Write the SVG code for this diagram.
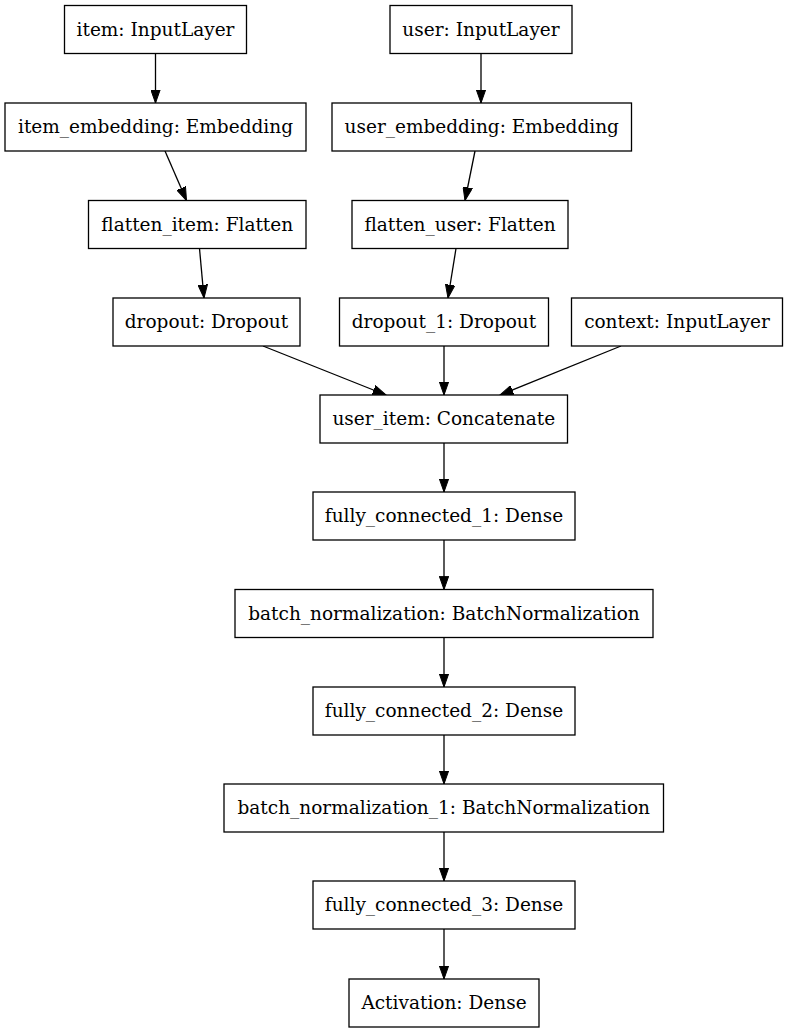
<svg xmlns="http://www.w3.org/2000/svg" width="788" height="1033" viewBox="0 0 788 1033">
  <style>
    .node rect { fill: #ffffff; stroke: #000000; stroke-width: 1.3; }
    .node text { font-family: "DejaVu Serif", "Liberation Serif", serif; font-size: 18.5px; fill: #000000; text-anchor: middle; }
    .edges line { stroke: #000000; stroke-width: 1.3; marker-end: url(#arrow); }
  </style>
  <defs>
    <marker id="arrow" markerUnits="userSpaceOnUse" markerWidth="14" markerHeight="10" viewBox="0 -5 14 10" refX="13.3" refY="0" orient="auto">
      <path d="M0,-4.7 L13.3,0 L0,4.7 Z" fill="#000000" stroke="#000000" stroke-width="1"/>
    </marker>
  </defs>
  <rect x="0" y="0" width="788" height="1033" fill="#ffffff"/>

  <!-- connectors -->
  <g class="edges" id="edges">
    <line x1="155.5" y1="53.5" x2="155.5" y2="103"/>
    <line x1="481" y1="53.5" x2="481" y2="103"/>
    <line x1="165" y1="151" x2="186.5" y2="200.5"/>
    <line x1="475" y1="151" x2="465" y2="200.5"/>
    <line x1="199.5" y1="248.5" x2="204" y2="298"/>
    <line x1="456" y1="248.5" x2="448" y2="298"/>
    <line x1="263" y1="346" x2="386" y2="395"/>
    <line x1="444" y1="346" x2="444" y2="395"/>
    <line x1="621" y1="346" x2="500" y2="395"/>
    <line x1="444" y1="443" x2="444" y2="492"/>
    <line x1="444" y1="540" x2="444" y2="589.5"/>
    <line x1="444" y1="637.5" x2="444" y2="687"/>
    <line x1="444" y1="735" x2="444" y2="784"/>
    <line x1="444" y1="832" x2="444" y2="881"/>
    <line x1="444" y1="929" x2="444" y2="979"/>
  </g>

  <!-- layers -->
  <g class="node" id="item">
    <rect x="64.5" y="5.5" width="182" height="48"/>
    <text x="155.5" y="35.5">item: InputLayer</text>
  </g>
  <g class="node" id="user">
    <rect x="390" y="5.5" width="182" height="48"/>
    <text x="481" y="35.5">user: InputLayer</text>
  </g>
  <g class="node" id="item_embedding">
    <rect x="5" y="103" width="301" height="48"/>
    <text x="155.5" y="133">item_embedding: Embedding</text>
  </g>
  <g class="node" id="user_embedding">
    <rect x="332" y="103" width="299.5" height="48"/>
    <text x="481.75" y="133">user_embedding: Embedding</text>
  </g>
  <g class="node" id="flatten_item">
    <rect x="88.5" y="200.5" width="217.5" height="48"/>
    <text x="197.25" y="230.5">flatten_item: Flatten</text>
  </g>
  <g class="node" id="flatten_user">
    <rect x="352" y="200.5" width="216" height="48"/>
    <text x="460" y="230.5">flatten_user: Flatten</text>
  </g>
  <g class="node" id="dropout">
    <rect x="113" y="298" width="187" height="48"/>
    <text x="206.5" y="328">dropout: Dropout</text>
  </g>
  <g class="node" id="dropout_1">
    <rect x="339.5" y="298" width="209" height="48"/>
    <text x="444" y="328">dropout_1: Dropout</text>
  </g>
  <g class="node" id="context">
    <rect x="571.5" y="298" width="211" height="48"/>
    <text x="677" y="328">context: InputLayer</text>
  </g>
  <g class="node" id="user_item">
    <rect x="320" y="395" width="247.5" height="48"/>
    <text x="443.75" y="425">user_item: Concatenate</text>
  </g>
  <g class="node" id="fully_connected_1">
    <rect x="313" y="492" width="262" height="48"/>
    <text x="444" y="522">fully_connected_1: Dense</text>
  </g>
  <g class="node" id="batch_normalization">
    <rect x="235" y="589.5" width="418" height="48"/>
    <text x="444" y="619.5">batch_normalization: BatchNormalization</text>
  </g>
  <g class="node" id="fully_connected_2">
    <rect x="313" y="687" width="262" height="48"/>
    <text x="444" y="717">fully_connected_2: Dense</text>
  </g>
  <g class="node" id="batch_normalization_1">
    <rect x="224" y="784" width="439.5" height="48"/>
    <text x="443.75" y="814">batch_normalization_1: BatchNormalization</text>
  </g>
  <g class="node" id="fully_connected_3">
    <rect x="313" y="881" width="262" height="48"/>
    <text x="444" y="911">fully_connected_3: Dense</text>
  </g>
  <g class="node" id="activation">
    <rect x="349" y="979" width="190" height="48"/>
    <text x="444" y="1009">Activation: Dense</text>
  </g>
</svg>
